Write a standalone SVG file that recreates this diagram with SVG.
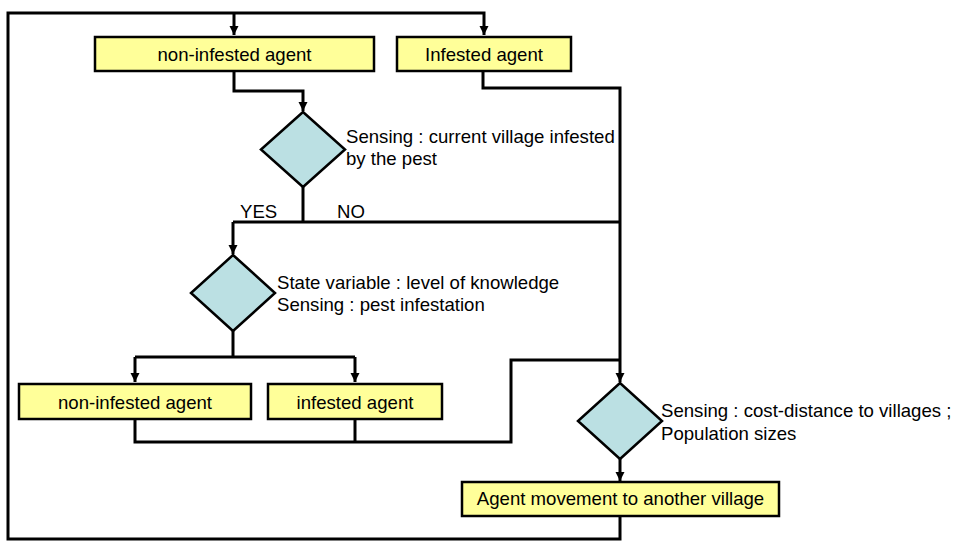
<svg xmlns="http://www.w3.org/2000/svg" width="960" height="560" viewBox="0 0 960 560">
<defs>
<marker id="arr" markerUnits="userSpaceOnUse" markerWidth="10" markerHeight="10" refX="9" refY="5" orient="auto">
<path d="M0,0.5 L9,5 L0,9.5 z" fill="#000"/>
</marker>
</defs>
<style>
.box{fill:#FFFF99;stroke:#000;stroke-width:2.5}
.dia{fill:#BBE0E3;stroke:#000;stroke-width:2.5}
.c{fill:none;stroke:#000;stroke-width:3}
.a{marker-end:url(#arr)}
text{font-family:"Liberation Sans",Arial,sans-serif;font-size:18.6px;fill:#000}
.m{text-anchor:middle}
</style>
<rect width="960" height="560" fill="#fff"/>
<g id="connectors">
<path class="c a" d="M620,516 V539 H8 V13 H484 V35"/>
<path class="c a" d="M234,13 V35"/>
<path class="c a" d="M234,71 V91 H303 V111"/>
<path class="c a" d="M483,71 V88 H620 V382"/>
<path class="c" d="M303,187 V222"/>
<path class="c" d="M233,222 H620"/>
<path class="c a" d="M233,222 V254"/>
<path class="c" d="M233,331 V357"/>
<path class="c" d="M135,357 H355"/>
<path class="c a" d="M135,357 V382"/>
<path class="c a" d="M355,357 V382"/>
<path class="c" d="M135,419 V442 H511 V360 H620"/>
<path class="c" d="M355,419 V442"/>
<path class="c a" d="M620,459 V481"/>
<text x="240" y="218">YES</text>
<text x="337" y="218">NO</text>
</g>
<g id="box-noninfested-top">
<rect class="box" x="95" y="37" width="279" height="34"/>
<text class="m" x="234.5" y="61">non-infested agent</text>
</g>
<g id="box-infested-top">
<rect class="box" x="397" y="37" width="174" height="34"/>
<text class="m" x="484" y="61">Infested agent</text>
</g>
<g id="dia-village">
<polygon class="dia" points="303,112 345,149.5 303,187 261,149.5"/>
<text x="346" y="143">Sensing : current village infested</text>
<text x="346" y="165">by the pest</text>
</g>
<g id="dia-knowledge">
<polygon class="dia" points="233,255 275,293 233,331 191,293"/>
<text x="277" y="289">State variable : level of knowledge</text>
<text x="277" y="311">Sensing : pest infestation</text>
</g>
<g id="box-noninfested-bottom">
<rect class="box" x="19" y="384" width="232" height="35"/>
<text class="m" x="135" y="409">non-infested agent</text>
</g>
<g id="box-infested-bottom">
<rect class="box" x="268" y="384" width="174" height="35"/>
<text class="m" x="355" y="409">infested agent</text>
</g>
<g id="dia-movement">
<polygon class="dia" points="620,383 662,421 620,459 578,421"/>
<text x="661" y="417">Sensing : cost-distance to villages ;</text>
<text x="661" y="440">Population sizes</text>
</g>
<g id="box-movement">
<rect class="box" x="462" y="482" width="317" height="34"/>
<text class="m" x="620.5" y="505">Agent movement to another village</text>
</g>
</svg>
